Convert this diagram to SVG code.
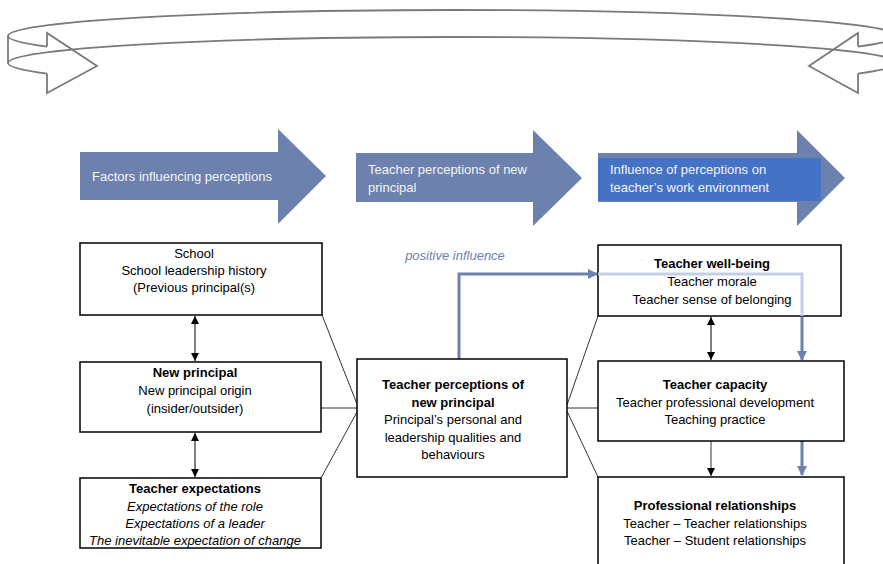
<svg xmlns="http://www.w3.org/2000/svg" width="883" height="564" viewBox="0 0 883 564">
<style>
.band{fill:none;stroke:#7a7a7a;stroke-width:1.8}
.hdr{fill:#6c81ad}
.ht{font-family:"Liberation Sans",Arial,sans-serif;font-size:13px;fill:#f4f4f4}
.box{fill:#fff;stroke:#000;stroke-width:1.5}
.t{font-family:"Liberation Sans",Arial,sans-serif;font-size:13px;fill:#000;text-anchor:middle}
.b{font-weight:bold}
.i{font-style:italic}
.thin{stroke:#000;stroke-width:0.8;fill:none}
.dbl{stroke:#000;stroke-width:1;fill:none;marker-start:url(#ah);marker-end:url(#ah)}
.blue{stroke:#6c81ad;stroke-width:3;fill:none}
.light{stroke:#c3cfe6;stroke-width:3;fill:none}
</style>
<defs>
<marker id="ah" markerUnits="userSpaceOnUse" markerWidth="8" markerHeight="8" refX="8" refY="4" orient="auto-start-reverse"><path d="M0,0 L8,4 L0,8 z" fill="#000"/></marker>
<marker id="bh" markerUnits="userSpaceOnUse" markerWidth="10" markerHeight="10" refX="9" refY="5" orient="auto"><path d="M0,0 L10,5 L0,10 z" fill="#6c81ad"/></marker>
</defs>

<g id="cycle-band">
<path class="band" d="M8,36 A444.5,26 0 0 1 897,36"/>
<path class="band" d="M8,63 A444.5,26 0 0 1 897,63"/>
<path class="band" d="M8,36 A444.5,26 0 0 0 47,46.6"/>
<path class="band" d="M8,63 A444.5,26 0 0 0 47,73.6"/>
<path class="band" d="M858,46.6 A444.5,26 0 0 0 897,36"/>
<path class="band" d="M858,73.6 A444.5,26 0 0 0 897,63"/>
<path class="band" d="M8,36 L8,63"/>
<polyline class="band" points="47,46.6 47,33 97,66 47,93 47,73.6"/>
<polyline class="band" points="858,46.6 858,33 809,66 858,93 858,73.6"/>
</g>

<g id="header-factors">
<polygon class="hdr" points="80,152 278,152 278,129 326,176 278,224 278,200 80,200"/>
<text class="ht" x="92" y="180.5">Factors influencing perceptions</text>
</g>
<g id="header-perceptions">
<polygon class="hdr" points="356,153 533,153 533,130 582,178 533,226 533,202 356,202"/>
<text class="ht" x="368" y="173.5">Teacher perceptions of new</text>
<text class="ht" x="368" y="191.5">principal</text>
</g>
<g id="header-influence">
<polygon class="hdr" points="598,153 797,153 797,130 845,178 797,226 797,202 598,202"/>
<rect x="598" y="158" width="223" height="43" fill="#4472c4"/>
<text class="ht" x="610" y="174">Influence of perceptions on</text>
<text class="ht" x="610" y="191.5">teacher’s work environment</text>
</g>

<g id="connectors">
<line class="thin" x1="322" y1="315" x2="357" y2="404"/>
<line class="thin" x1="321" y1="408" x2="357" y2="408"/>
<line class="thin" x1="321" y1="478" x2="357" y2="412"/>
<line class="thin" x1="567" y1="405" x2="598" y2="316"/>
<line class="thin" x1="567" y1="408" x2="598" y2="408"/>
<line class="thin" x1="567" y1="411" x2="598" y2="477"/>
<line class="dbl" x1="195" y1="316" x2="195" y2="361"/>
<line class="dbl" x1="195" y1="433" x2="195" y2="477"/>
<line class="dbl" x1="711" y1="317" x2="711" y2="360"/>
<line class="thin" x1="711" y1="441" x2="711" y2="476" marker-end="url(#ah)"/>
<polyline class="blue" points="459,359 459,274 597,274" marker-end="url(#bh)"/>
<text class="t i" x="455" y="260" fill="#6c81ad" style="fill:#6c81ad">positive influence</text>
<line class="blue" x1="802" y1="441" x2="802" y2="475" marker-end="url(#bh)"/>
</g>

<g id="node-school">
<rect class="box" x="80" y="243" width="242" height="72"/>
<text class="t" x="194" y="257.5">School</text>
<text class="t" x="194" y="274.5">School leadership history</text>
<text class="t" x="194" y="291.5">(Previous principal(s)</text>
</g>
<g id="node-new-principal">
<rect class="box" x="80" y="362" width="241" height="70"/>
<text class="t b" x="195" y="376.5">New principal</text>
<text class="t" x="195" y="394.5">New principal origin</text>
<text class="t" x="195" y="412.5">(insider/outsider)</text>
</g>
<g id="node-teacher-expectations">
<rect class="box" x="80" y="478" width="241" height="70"/>
<text class="t b" x="195" y="492.5">Teacher expectations</text>
<text class="t i" x="195" y="510.5">Expectations of the role</text>
<text class="t i" x="195" y="527.5">Expectations of a leader</text>
<text class="t i" x="195" y="544.5">The inevitable expectation of change</text>
</g>
<g id="node-perceptions">
<rect class="box" x="357" y="359" width="210" height="118"/>
<text class="t b" x="453" y="388.5">Teacher perceptions of</text>
<text class="t b" x="453" y="406.5">new principal</text>
<text class="t" x="453" y="423.5">Principal’s personal and</text>
<text class="t" x="453" y="441.5">leadership qualities and</text>
<text class="t" x="453" y="458.5">behaviours</text>
</g>
<g id="node-wellbeing">
<rect class="box" x="598" y="245" width="243" height="71"/>
<polyline class="light" points="598,274 802,274 802,316"/>
<text class="t b" x="712" y="267.5">Teacher well-being</text>
<text class="t" x="712" y="286">Teacher morale</text>
<text class="t" x="712" y="303.5">Teacher sense of belonging</text>
</g>
<line id="wellbeing-to-capacity" class="blue" x1="802" y1="317" x2="802" y2="360" marker-end="url(#bh)"/>
<g id="node-capacity">
<rect class="box" x="598" y="361" width="246" height="80"/>
<text class="t b" x="715" y="388.5">Teacher capacity</text>
<text class="t" x="715" y="406.5">Teacher professional development</text>
<text class="t" x="715" y="423.5">Teaching practice</text>
</g>
<g id="node-relationships">
<rect class="box" x="598" y="477" width="246" height="90"/>
<text class="t b" x="715" y="509.5">Professional relationships</text>
<text class="t" x="715" y="527.5">Teacher – Teacher relationships</text>
<text class="t" x="715" y="544.5">Teacher – Student relationships</text>
</g>
</svg>
